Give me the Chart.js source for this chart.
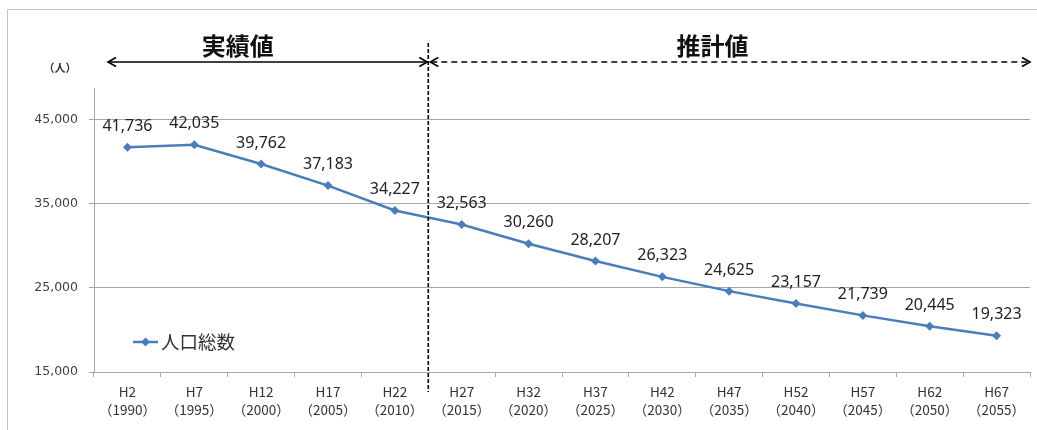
<!DOCTYPE html>
<html><head><meta charset="utf-8">
<script src="https://cdn.jsdelivr.net/npm/chart.js@4/dist/chart.umd.min.js"></script>
<style>
html,body{margin:0;padding:0;background:#fff;overflow:hidden}
#wrap{position:absolute;left:0;top:0;width:1037px;height:430px}
#frame{position:absolute;left:7px;top:9px;width:1100px;height:500px;border:1px solid #c4c4c4;box-sizing:border-box}
canvas{position:absolute;left:0;top:0}
</style></head><body>
<div id="wrap"><div id="frame"></div><canvas id="c" width="1037" height="430"></canvas></div>
<script>
const eraLabels = ['H2','H7','H12','H17','H22','H27','H32','H37','H42','H47','H52','H57','H62','H67'];
const yearLabels = ['（1990）','（1995）','（2000）','（2005）','（2010）','（2015）','（2020）','（2025）','（2030）','（2035）','（2040）','（2045）','（2050）','（2055）'];
const population = [41736,42035,39762,37183,34227,32563,30260,28207,26323,24625,23157,21739,20445,19323];
const seriesName = '人口総数';
const actualTitle = '実績値';
const estimateTitle = '推計値';
const unitLabel = '（人）';
const yTickValues = [15000,25000,35000,45000];
const lastActualIndex = 4;

const lineColor = '#4A7EBB';
const fmt = v => v.toLocaleString('en-US');

const deco = {
  id:'deco',
  afterDatasetsDraw(chart){
    const ctx = chart.ctx, x = chart.scales.x, y = chart.scales.y, ca = chart.chartArea;
    const meta = chart.getDatasetMeta(0);
    ctx.save();
    // data labels
    ctx.font = '16px "Noto Sans"';
    ctx.fillStyle = '#222';
    ctx.textAlign = 'center'; ctx.textBaseline = 'middle';
    meta.data.forEach((p,i)=>{ ctx.fillText(fmt(population[i]), p.x, p.y - 21); });
    // divider
    const bx = (x.getPixelForValue(lastActualIndex) + x.getPixelForValue(lastActualIndex+1))/2;
    ctx.strokeStyle = '#000'; ctx.lineWidth = 1.6;
    ctx.setLineDash([4,2]);
    ctx.beginPath(); ctx.moveTo(bx, 43); ctx.lineTo(bx, 392); ctx.stroke();
    // arrows
    const ay = 62;
    ctx.lineWidth = 1.6;
    ctx.setLineDash([]);
    ctx.beginPath(); ctx.moveTo(ca.left+14, ay); ctx.lineTo(bx-1, ay); ctx.stroke();
    const head=(tx,dir)=>{ctx.setLineDash([]);ctx.beginPath();ctx.moveTo(tx-dir*8,ay-4.5);ctx.lineTo(tx,ay);ctx.lineTo(tx-dir*8,ay+4.5);ctx.stroke();};
    head(ca.left+14,-1); head(bx-1,1);
    ctx.setLineDash([6,4]);
    ctx.beginPath(); ctx.moveTo(bx+3, ay); ctx.lineTo(ca.right-1, ay); ctx.stroke();
    head(bx+2,-1); head(ca.right,1);
    // titles
    ctx.setLineDash([]);
    ctx.fillStyle = '#111';
    ctx.font = 'bold 24px "Noto Sans CJK JP"';
    ctx.fillText(actualTitle, x.getPixelForValue(1.65), 46);
    ctx.fillText(estimateTitle, x.getPixelForValue(8.75), 46);
    ctx.font = 'bold 11px "Noto Sans CJK JP"';
    ctx.fillStyle = '#333';
    ctx.fillText(unitLabel, 60, 68);
    // legend
    const ly = 342, lx = ca.left + 39;
    ctx.strokeStyle = lineColor; ctx.lineWidth = 2.5;
    ctx.beginPath(); ctx.moveTo(lx, ly); ctx.lineTo(lx+25, ly); ctx.stroke();
    ctx.fillStyle = lineColor;
    ctx.beginPath(); ctx.moveTo(lx+12.5, ly-4.5); ctx.lineTo(lx+17, ly); ctx.lineTo(lx+12.5, ly+4.5); ctx.lineTo(lx+8, ly); ctx.closePath(); ctx.fill();
    ctx.fillStyle = '#333';
    ctx.font = '18.5px "Noto Sans CJK JP"';
    ctx.textAlign = 'left';
    ctx.fillText(seriesName, lx+28, ly);
    ctx.restore();
  }
};

new Chart(document.getElementById('c'), {
  type:'line',
  data:{
    labels: eraLabels.map((e,i)=>[e, yearLabels[i]]),
    datasets:[{
      label: seriesName,
      data: population,
      borderColor: lineColor,
      backgroundColor: lineColor,
      borderWidth: 2.5,
      pointStyle: 'rectRot',
      pointRadius: 4.5,
      pointBorderWidth: 0,
      tension: 0
    }]
  },
  options:{
    responsive:false, animation:false,
    layout:{padding:{top:88,right:7,left:0,bottom:0}},
    plugins:{legend:{display:false}, tooltip:{enabled:false}},
    scales:{
      x:{
        offset:true,
        grid:{offset:true, drawOnChartArea:false, drawTicks:true, tickLength:5, color:'#a6a6a6'},
        border:{color:'#a6a6a6', width:1},
        ticks:{color:'#333', font:{family:'"Noto Sans CJK JP"', size:13.5, lineHeight:1.33}, padding:6, maxRotation:0, autoSkip:false},
        afterFit(s){ s.height = 58; }
      },
      y:{
        min:15000, max:48800,
        afterBuildTicks(s){ s.ticks = yTickValues.map(v=>({value:v})); },
        grid:{color:'#a6a6a6', tickLength:5},
        border:{color:'#a6a6a6', width:1},
        ticks:{color:'#404040', font:{family:'"DejaVu Sans"', size:12.5}, padding:11, callback:v=>fmt(v)},
        afterFit(s){ s.width = 94; }
      }
    }
  },
  plugins:[deco]
});
</script>
</body></html>
